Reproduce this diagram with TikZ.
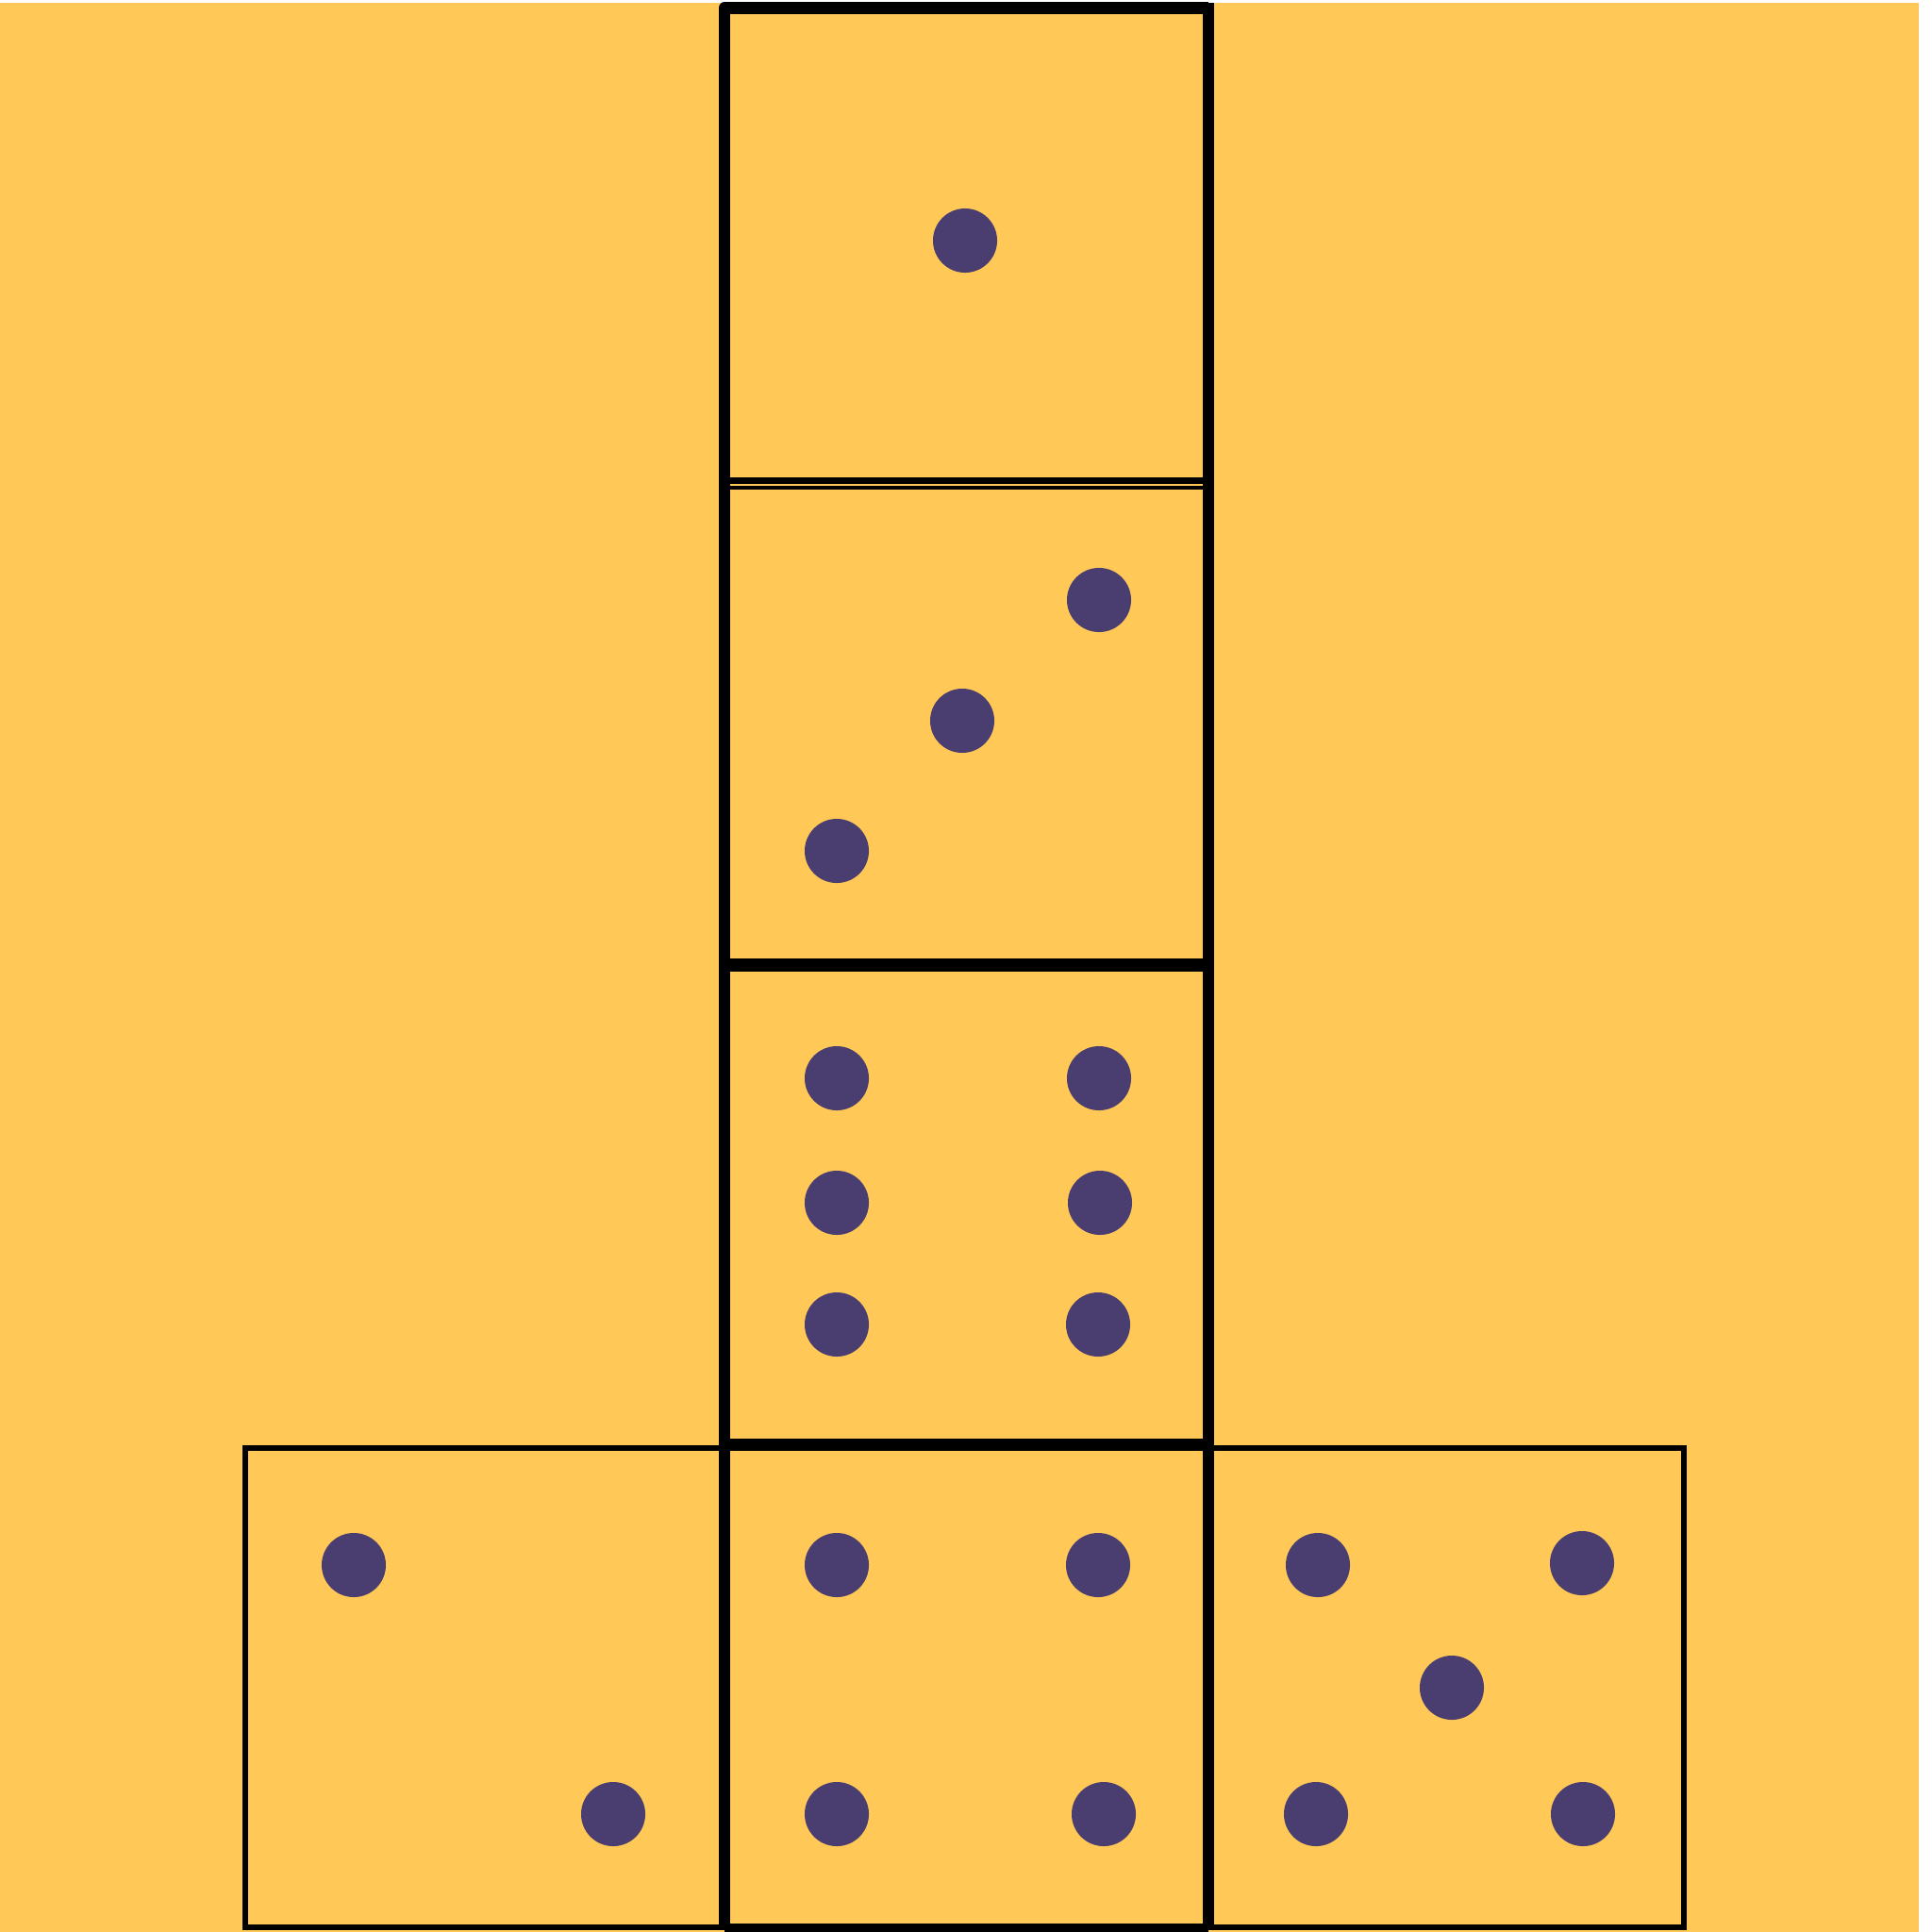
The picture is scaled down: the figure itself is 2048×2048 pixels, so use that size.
\documentclass[tikz,border=0pt]{standalone}
\usepackage{tikz}
\definecolor{cardboard}{RGB}{255,200,87}
\definecolor{pipcolor}{RGB}{74,62,112}
\tikzset{pip/.style={circle,fill=pipcolor,inner sep=0pt,minimum size=0.68cm}}

\begin{document}
\begin{tikzpicture}[x=0.01cm,y=-0.01cm]
		\useasboundingbox (0,0) rectangle (2048,2048);
		\fill[cardboard] (0,3) rectangle (2034,2048);
		
		% side faces
		\draw[line width=1.7pt] (260,1534.5) rectangle (768,2042.5);
		\draw[line width=1.7pt] (1281,1534.5) rectangle (1785,2042.5);
		
		% column of faces
		\draw[line width=3.5pt,line join=round] (768,2046) -- (768,8.5) -- (1281,8.5);
		\draw[line width=3.5pt] (1281,2.5) -- (1281,2046);
		\draw[line width=1.9pt] (768,509.5) -- (1281,509.5);
		\draw[line width=1.4pt] (768,517) -- (1281,517);
		\draw[line width=3.8pt] (768,1023) -- (1281,1023);
		\draw[line width=3.7pt] (768,1531) -- (1281,1531);
		\draw[line width=3.4pt] (768,2045) -- (1281,2045);
		
		% one
		\node[pip] (one) at (1023,255) {};
		
		% three
		\node[pip] (three1) at (1165,636) {};
		\node[pip] (three2) at (1020,764) {};
		\node[pip] (three3) at (887,902) {};
		
		% six
		\node[pip] (six1) at (887,1143) {};
		\node[pip] (six2) at (1165,1143) {};
		\node[pip] (six3) at (887,1275) {};
		\node[pip] (six4) at (1166,1275) {};
		\node[pip] (six5) at (887,1404) {};
		\node[pip] (six6) at (1164,1404) {};
		
		% two
		\node[pip] (two1) at (375,1659) {};
		\node[pip] (two2) at (650,1923) {};
		
		% four
		\node[pip] (four1) at (887,1659) {};
		\node[pip] (four2) at (1164,1659) {};
		\node[pip] (four3) at (887,1923) {};
		\node[pip] (four4) at (1170,1923) {};
		
		% five
		\node[pip] (five1) at (1397,1659) {};
		\node[pip] (five2) at (1677,1657) {};
		\node[pip] (five3) at (1539,1789) {};
		\node[pip] (five4) at (1395,1923) {};
		\node[pip] (five5) at (1678,1923) {};
		\end{tikzpicture}
\end{document}
